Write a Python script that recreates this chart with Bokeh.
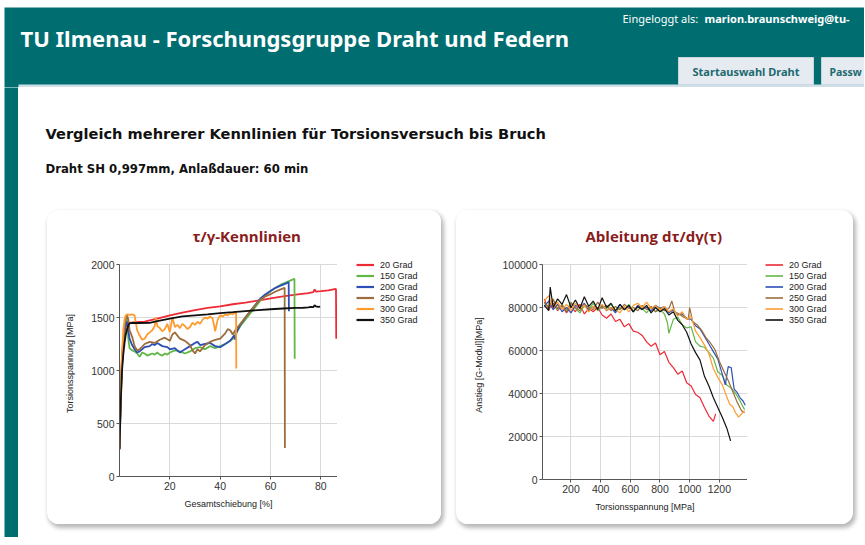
from bokeh.plotting import figure
from bokeh.layouts import row, column
from bokeh.models import Range1d, FixedTicker, Legend, LegendItem, BasicTickFormatter, Grid
from bokeh.core.properties import value
from bokeh.embed import file_html
from bokeh.resources import INLINE

# ---------------- data ----------------
series_names = ["20 Grad", "150 Grad", "200 Grad", "250 Grad", "300 Grad", "350 Grad"]
series_colors = ["#ee2a35", "#62b847", "#2d4fb6", "#9c6c3c", "#ff9b2f", "#111111"]

# Chart 1: tau/gamma characteristic (x = Gesamtschiebung [%], y = Torsionsspannung [MPa])
k_x_20 = [0, 0.3, 0.6, 1, 1.5, 2, 2.5, 3, 4, 6, 10, 15, 20, 25, 30, 35, 40, 45, 50, 55, 60, 65, 70, 75, 77, 77.5, 78, 80, 83, 85, 86, 86.1]
k_y_20 = [250, 600, 900, 1150, 1280, 1360, 1410, 1440, 1450, 1455, 1462, 1490, 1520, 1545, 1570, 1590, 1605, 1625, 1640, 1660, 1680, 1700, 1715, 1730, 1740, 1765, 1745, 1748, 1755, 1765, 1770, 1300]

k_x_150 = [0, 0.5, 1, 1.5, 2, 2.5, 3, 3.5, 4, 5, 6, 7, 8, 9, 10, 11, 12, 13, 14, 15, 16, 17, 18, 19, 20, 22, 24, 26, 28, 30, 32, 34, 36, 38, 40, 42, 44, 45, 46, 47, 48, 50, 52, 54, 56, 58, 60, 62, 64, 66, 68, 69.5, 69.6]
k_y_150 = [280, 800, 1100, 1300, 1420, 1490, 1510, 1300, 1210, 1190, 1180, 1160, 1130, 1170, 1160, 1140, 1150, 1160, 1150, 1170, 1150, 1140, 1160, 1150, 1170, 1190, 1180, 1160, 1180, 1210, 1220, 1200, 1230, 1210, 1230, 1250, 1280, 1300, 1340, 1380, 1420, 1480, 1540, 1600, 1660, 1710, 1750, 1780, 1810, 1830, 1850, 1865, 1110]

k_x_200 = [0, 0.5, 1, 1.5, 2, 2.5, 3, 3.5, 4, 5, 6, 7, 8, 10, 12, 13, 14, 15, 17, 19, 20, 22, 23, 24, 26, 28, 30, 31, 32, 34, 36, 38, 40, 42, 44, 45.5, 46, 46.5, 48, 50, 52, 54, 56, 58, 60, 62, 64, 66, 67.2, 67.3]
k_y_200 = [270, 750, 1050, 1250, 1380, 1440, 1460, 1380, 1300, 1240, 1200, 1170, 1180, 1220, 1230, 1250, 1240, 1260, 1230, 1220, 1200, 1210, 1190, 1170, 1200, 1230, 1260, 1270, 1240, 1250, 1260, 1230, 1220, 1250, 1280, 1330, 1290, 1360, 1430, 1500, 1560, 1620, 1680, 1720, 1750, 1780, 1800, 1820, 1835, 1560]

k_x_250 = [0, 0.5, 1, 1.5, 2, 2.5, 3, 3.5, 4, 5, 6, 7, 8, 10, 12, 14, 16, 18, 20, 21, 22, 24, 26, 28, 29, 30, 31, 32, 34, 36, 38, 40, 42, 43, 44, 45, 46, 48, 50, 52, 54, 56, 58, 60, 62, 64, 65.6, 65.7]
k_y_250 = [260, 720, 1050, 1280, 1420, 1500, 1520, 1480, 1380, 1320, 1230, 1190, 1200, 1250, 1270, 1260, 1290, 1310, 1280, 1340, 1360, 1300, 1280, 1240, 1190, 1160, 1200, 1180, 1240, 1270, 1290, 1300, 1350, 1390, 1380, 1340, 1380, 1440, 1500, 1560, 1620, 1670, 1700, 1720, 1745, 1765, 1780, 270]

k_x_300 = [0, 0.5, 1, 1.5, 2, 2.5, 3, 4, 5, 6, 6.5, 7, 8, 9, 10, 11, 12, 13, 14, 14.5, 15, 16, 17, 18, 19, 20, 21, 22, 23, 24, 25, 26, 27, 28, 29, 30, 31, 32, 33, 34, 35, 36, 37, 38, 39, 40, 41, 42, 43, 44, 45, 46, 46.3, 46.4]
k_y_300 = [280, 800, 1150, 1380, 1480, 1520, 1530, 1525, 1530, 1520, 1450, 1380, 1330, 1290, 1300, 1340, 1360, 1380, 1420, 1500, 1420, 1400, 1370, 1390, 1440, 1360, 1500, 1410, 1430, 1400, 1440, 1420, 1390, 1410, 1450, 1430, 1460, 1440, 1480, 1500, 1490, 1510, 1490, 1370, 1480, 1520, 1510, 1530, 1520, 1540, 1530, 1550, 1550, 1020]

k_x_350 = [0, 0.5, 1, 1.5, 2, 2.5, 3, 3.5, 4, 5, 8, 12, 15, 20, 25, 30, 35, 40, 45, 50, 55, 60, 65, 70, 73, 75, 76, 77, 77.5, 78, 79, 79.7]
k_y_350 = [260, 700, 1000, 1150, 1260, 1340, 1390, 1425, 1445, 1450, 1448, 1450, 1465, 1490, 1510, 1520, 1530, 1542, 1550, 1560, 1570, 1578, 1585, 1590, 1592, 1595, 1600, 1598, 1615, 1605, 1600, 1602]

# Chart 2: derivative (x = Torsionsspannung [MPa], y = Anstieg [G-Modul] [MPa])
a_x_20 = [20, 50, 80, 110, 140, 170, 200, 230, 260, 290, 320, 350, 380, 410, 440, 470, 500, 530, 560, 590, 620, 650, 680, 710, 740, 770, 800, 830, 860, 890, 920, 950, 980, 1010, 1040, 1070, 1100, 1130, 1160, 1175]
a_y_20 = [84000, 79000, 82000, 78500, 81000, 77500, 80500, 78000, 81500, 77000, 79500, 78000, 80000, 76500, 75000, 77000, 73500, 74500, 71000, 72500, 69000, 68500, 67000, 64000, 62000, 63500, 58000, 59500, 54500, 52000, 49000, 50500, 45000, 43500, 39500, 38000, 33500, 29500, 27000, 30500]

a_x_150 = [20, 50, 80, 110, 140, 170, 200, 230, 260, 290, 320, 350, 380, 410, 440, 470, 500, 530, 560, 590, 620, 650, 680, 710, 740, 770, 800, 830, 850, 860, 890, 920, 950, 980, 1010, 1040, 1070, 1100, 1130, 1160, 1190, 1220, 1250, 1280, 1310, 1340, 1370]
a_y_150 = [82000, 80000, 83500, 79000, 81500, 78500, 82500, 79500, 77500, 81000, 79000, 82000, 78500, 80500, 79500, 81500, 78000, 80000, 79000, 81500, 78500, 80000, 79500, 77500, 80500, 78000, 79000, 77000, 73000, 68000, 74500, 75500, 72000, 70500, 71000, 64000, 62000, 61500, 59000, 56500, 50000, 48500, 44000, 42500, 40000, 36500, 32500]

a_x_200 = [20, 50, 80, 110, 140, 170, 200, 230, 260, 290, 320, 350, 380, 410, 440, 470, 500, 530, 560, 590, 620, 650, 680, 710, 740, 770, 800, 830, 860, 890, 920, 950, 980, 1010, 1040, 1070, 1100, 1130, 1160, 1190, 1220, 1240, 1260, 1280, 1300, 1320, 1340, 1360, 1375]
a_y_200 = [80500, 83000, 79000, 81500, 78000, 80000, 77500, 81000, 79500, 82000, 78500, 80500, 79000, 81000, 78500, 80000, 77500, 81500, 79000, 80500, 78000, 81000, 79500, 80000, 78500, 81000, 79500, 80500, 77500, 79000, 76500, 77000, 75000, 74500, 71500, 70000, 66500, 63000, 59500, 56000, 49000, 44000, 52500, 52000, 42000, 40500, 38000, 36500, 34500]

a_x_250 = [20, 50, 80, 110, 140, 170, 200, 230, 260, 290, 320, 350, 380, 410, 440, 470, 500, 530, 560, 590, 620, 650, 680, 710, 740, 770, 800, 830, 860, 880, 900, 930, 960, 990, 1000, 1020, 1050, 1080, 1110, 1140, 1170, 1200, 1230, 1260, 1290, 1320, 1350, 1370]
a_y_250 = [82500, 80000, 84000, 79500, 81000, 78000, 82000, 80000, 78500, 81500, 80000, 79000, 82500, 79500, 81000, 78500, 80500, 79000, 81500, 79500, 80000, 78500, 81000, 79000, 80500, 78000, 80000, 78500, 79500, 83000, 78000, 77000, 75500, 74500, 80000, 73500, 72000, 69500, 66000, 63500, 60500, 55000, 50500, 46000, 41000, 36000, 32000, 31000]

a_x_300 = [20, 50, 80, 110, 140, 170, 200, 230, 260, 290, 320, 350, 380, 410, 440, 470, 500, 530, 560, 590, 620, 650, 680, 710, 740, 770, 800, 830, 860, 890, 920, 950, 980, 1010, 1040, 1070, 1100, 1130, 1160, 1190, 1220, 1250, 1270, 1290, 1310, 1330, 1350, 1370]
a_y_300 = [83000, 85500, 80000, 82500, 79000, 81500, 78500, 82000, 79500, 81000, 78000, 80500, 79000, 81500, 78500, 80000, 79000, 77500, 80500, 78000, 81000, 82000, 80000, 82500, 79500, 81000, 79000, 80500, 78000, 79500, 76000, 78000, 74500, 76000, 69000, 66000, 62500, 58500, 51500, 47500, 44000, 38500, 35000, 34000, 31000, 29000, 30500, 32000]

a_x_350 = [20, 50, 60, 80, 110, 140, 170, 200, 230, 260, 290, 320, 350, 380, 410, 440, 470, 500, 530, 560, 590, 620, 650, 680, 710, 740, 770, 800, 830, 860, 890, 920, 950, 980, 1010, 1040, 1070, 1100, 1130, 1160, 1190, 1220, 1250, 1276]
a_y_350 = [81000, 78500, 89500, 80000, 84000, 81500, 86000, 80000, 83500, 79500, 85000, 80500, 83000, 79000, 84500, 80000, 82000, 78500, 81500, 79000, 81000, 78000, 80500, 79000, 81000, 77500, 80000, 78000, 79500, 76500, 78000, 74000, 72000, 68500, 63000, 59000, 55500, 48000, 43500, 38000, 33500, 29000, 24000, 18000]

k_series = [(k_x_20, k_y_20), (k_x_150, k_y_150), (k_x_200, k_y_200),
            (k_x_250, k_y_250), (k_x_300, k_y_300), (k_x_350, k_y_350)]
a_series = [(a_x_20, a_y_20), (a_x_150, a_y_150), (a_x_200, a_y_200),
            (a_x_250, a_y_250), (a_x_300, a_y_300), (a_x_350, a_y_350)]

k_xlim = (0, 86.6)
k_ylim = (0, 2000)
a_xlim = (8, 1390)
a_ylim = (0, 100000)
k_xticks = [20, 40, 60, 80]
k_yticks = [0, 500, 1000, 1500, 2000]
a_xticks = [200, 400, 600, 800, 1000, 1200]
a_yticks = [0, 20000, 40000, 60000, 80000, 100000]

TEAL = "#006e71"
FONT = "Liberation Sans"
BOX_STYLE = {"border-radius": "12px", "overflow": "hidden", "background-color": "white",
             "box-shadow": "2px 3px 4px 1px rgba(0,0,0,0.28)"}


def bare(p):
    p.axis.visible = False
    p.grid.visible = False
    p.outline_line_color = None
    p.min_border = 0
    return p


# ---------------- header (page x 4..864, y 7..87) ----------------
header = bare(figure(width=860, height=80, x_range=Range1d(4, 864), y_range=Range1d(87, 7),
                     output_backend="svg", toolbar_location=None))
header.background_fill_color = TEAL
header.border_fill_color = TEAL
header.text(x=[20], y=[37], text=["TU Ilmenau - Forschungsgruppe Draht und Federn"],
            text_font=value("Noto Sans"), text_font_style="bold", text_font_size="22px",
            text_color="white", text_baseline="middle")
header.text(x=[622], y=[18], text=["Eingeloggt als:"], text_font=value("Noto Sans"),
            text_font_size="11px", text_color="white", text_baseline="middle")
header.text(x=[704], y=[18], text=["marion.braunschweig@tu-"], text_font=value("Noto Sans"),
            text_font_style="bold", text_font_size="11px", text_color="white", text_baseline="middle")
header.quad(left=[678, 821], right=[813, 900], top=[57, 57], bottom=[84, 84],
            fill_color="#e5ebf0", line_color="#c9d3da")
header.text(x=[745.5], y=[71], text=["Startauswahl Draht"], text_font=value("Noto Sans"),
            text_font_style="bold", text_font_size="11px", text_color="#1d6970",
            text_baseline="middle", text_align="center")
header.text(x=[829], y=[71], text=["Passw"], text_font=value("Noto Sans"),
            text_font_style="bold", text_font_size="10.5px", text_color="#1d6970",
            text_baseline="middle")
header.quad(left=[18], right=[864], top=[84], bottom=[87], fill_color="#cfe0e8", line_color=None)

# ---------------- left strip ----------------
strip = bare(figure(width=14, height=450, x_range=Range1d(0, 1), y_range=Range1d(0, 1),
                    output_backend="svg", toolbar_location=None))
strip.background_fill_color = TEAL
strip.border_fill_color = TEAL

# ---------------- headings (page x 18..864, y 87..205) ----------------
heads = bare(figure(width=846, height=118, x_range=Range1d(18, 864), y_range=Range1d(205, 87),
                    output_backend="svg", toolbar_location=None))
heads.background_fill_color = "white"
heads.border_fill_color = "white"
heads.text(x=[45], y=[133], text=["Vergleich mehrerer Kennlinien für Torsionsversuch bis Bruch"],
           text_font=value("DejaVu Sans"), text_font_style="bold", text_font_size="14.6px",
           text_color="#111111", text_baseline="middle")
heads.text(x=[45], y=[168], text=["Draht SH 0,997mm, Anlaßdauer: 60 min"],
           text_font=value("DejaVu Sans"), text_font_style="bold", text_font_size="11.7px",
           text_color="#111111", text_baseline="middle")


# ---------------- charts ----------------
# Each chart box = plot figure + a narrow legend figure, wrapped in a styled row.
def make_chart(title, series, xlim, ylim, xticks, yticks, xlabel, ylabel,
               w, h, fl, ft, fb, data_h, leg_w, leg_x, leg_gap,
               title_off, ylab_standoff, lw, margin):
    fh = h - ft - fb
    y_end = ylim[0] + (ylim[1] - ylim[0]) * fh / data_h
    p = figure(title=title, width=w, height=h,
               x_range=Range1d(*xlim), y_range=Range1d(ylim[0], y_end),
               min_border_left=fl, min_border_right=0, min_border_top=ft, min_border_bottom=fb,
               output_backend="svg", toolbar_location=None)
    p.title.text_font = "Open Sans"
    p.title.text_font_style = "bold"
    p.title.text_font_size = "15px"
    p.title.text_color = "#8a1c1c"
    p.title.align = "left"
    p.title.offset = title_off
    p.title.standoff = 9
    p.background_fill_color = "white"
    p.border_fill_color = "white"
    p.outline_line_color = None
    p.xaxis.ticker = FixedTicker(ticks=xticks)
    p.yaxis.ticker = FixedTicker(ticks=yticks)
    p.yaxis.formatter = BasicTickFormatter(use_scientific=False)
    p.yaxis.bounds = ylim
    p.xaxis.axis_label = xlabel
    p.yaxis.axis_label = ylabel
    for ax in (p.xaxis, p.yaxis):
        ax.axis_label_text_font = FONT
        ax.axis_label_text_font_size = "9px"
        ax.axis_label_text_font_style = "normal"
        ax.axis_label_text_color = "#222222"
        ax.major_label_text_font = FONT
        ax.major_label_text_font_size = "10.5px"
        ax.major_label_text_color = "#333333"
        ax.major_label_standoff = 2
        ax.major_tick_out = 3
        ax.major_tick_in = 0
        ax.minor_tick_out = 0
        ax.minor_tick_in = 0
        ax.axis_line_color = "#555555"
        ax.major_tick_line_color = "#555555"
    p.xaxis.axis_label_standoff = 6
    p.yaxis.axis_label_standoff = ylab_standoff
    p.grid.grid_line_color = "#d9d9d9"
    if "cross_bounds" in Grid.properties():
        p.xgrid.cross_bounds = ylim
    else:
        p.xgrid.visible = False
        p.segment(x0=xticks, y0=[ylim[0]] * len(xticks), x1=xticks, y1=[ylim[1]] * len(xticks),
                  line_color="#d9d9d9", level="underlay")
    for color, (xs, ys) in zip(series_colors, series):
        p.line(xs, ys, line_color=color, line_width=lw)

    # legend panel: a small figure whose frame is aligned with the chart frame
    # (same top/bottom borders). The same series are drawn there too (they fall
    # outside its view range), so the legend swatches carry the series' styles.
    lf = bare(figure(width=leg_w, height=h, x_range=Range1d(-2, -1), y_range=Range1d(-2, -1),
                     output_backend="svg", toolbar_location=None))
    lf.min_border_left = leg_x - leg_gap
    lf.min_border_top = ft
    lf.min_border_right = 0
    lf.min_border_bottom = fb
    lf.background_fill_color = "white"
    lf.border_fill_color = "white"
    items = []
    for name, color, (xs, ys) in zip(series_names, series_colors, series):
        r = lf.line(xs, ys, line_color=color, line_width=lw + 0.4)
        items.append(LegendItem(label=name, renderers=[r]))
    leg = Legend(items=items, location="top_left")
    leg.label_text_font = FONT
    leg.label_text_font_size = "9px"
    leg.label_text_color = "#222222"
    leg.glyph_width = 18
    leg.glyph_height = 11
    leg.label_height = 11
    leg.label_standoff = 6
    leg.spacing = 0
    leg.padding = 0
    leg.margin = leg_gap
    leg.border_line_color = None
    leg.background_fill_alpha = 0
    lf.add_layout(leg, "center")
    return row(p, lf, margin=margin, styles=BOX_STYLE)


chart1 = make_chart("τ/γ-Kennlinien", k_series, k_xlim, k_ylim, k_xticks, k_yticks,
                    "Gesamtschiebung [%]", "Torsionsspannung [MPa]",
                    290, 314, 72, 40, 48, 212, 104, 19, 9, 73, 13, 1.8, (5, 0, 0, 29))
chart2 = make_chart("Ableitung dτ/dγ(τ)", a_series, a_xlim, a_ylim, a_xticks, a_yticks,
                    "Torsionsspannung [MPa]", "Anstieg [G-Modul][MPa]",
                    291, 314, 86, 40, 45, 215, 106, 18, 9, 43, 15, 1.2, (5, 0, 0, 15))

charts = row(chart1, chart2)
main = column(heads, charts)
page = column(header, row(strip, main), margin=(7, 0, 0, 4))

open("out.html", "w").write(file_html(page, INLINE))
